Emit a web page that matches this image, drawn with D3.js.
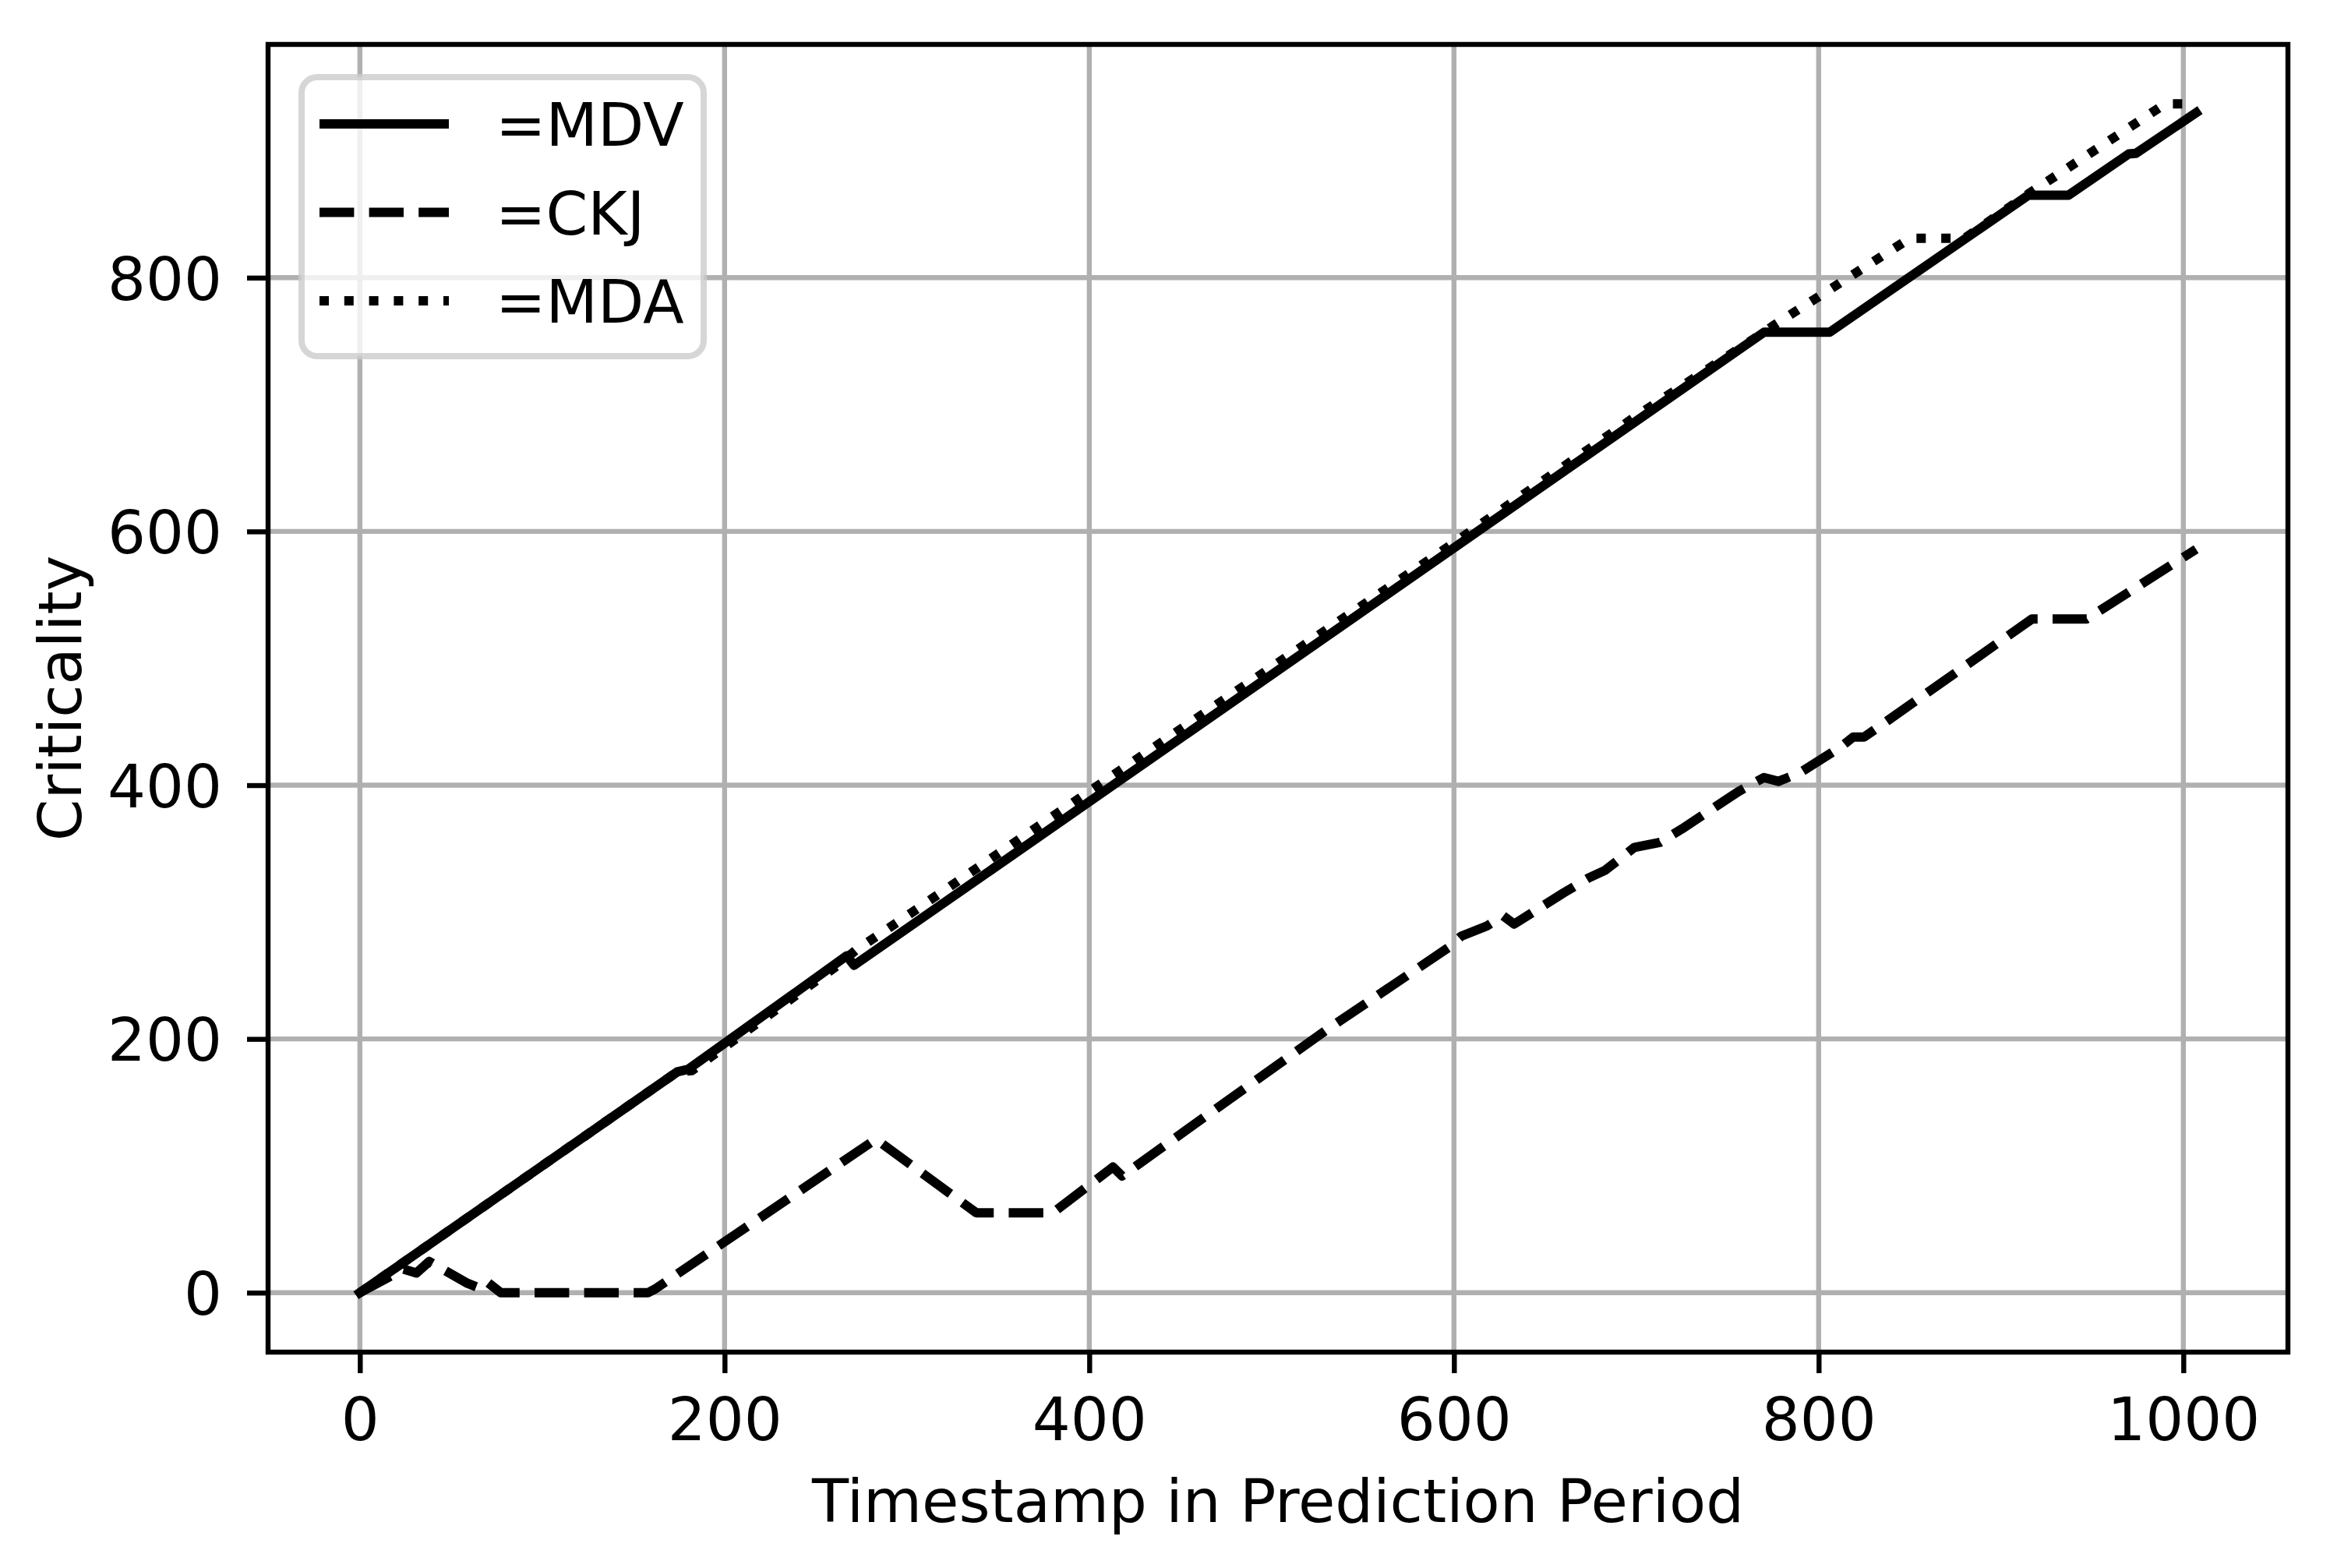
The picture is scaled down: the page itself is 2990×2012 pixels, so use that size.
<!DOCTYPE html>
<html>
<head>
    <meta charset="UTF-8">
    <title>Criticality</title>
    <script src="https://d3js.org/d3.v7.min.js"></script>
    <style>
        body {
            background-color: #ffffff;
            margin: 0;
            padding: 0;
        }
        text {
            font-family: 'DejaVu Sans';
            fill: #000000;
        }
    </style>
</head>
<body>
    <svg width="2990" height="2012" viewBox="0 0 2990 2012"></svg>

    <script>
        // series values, [timestamp, criticality]
        const mdv = [[0, 0], [174, 174], [180, 176], [267, 265.5], [271, 258], [770, 757],
            [806, 757], [915, 865], [937, 865], [970, 897.5], [974, 898], [1007, 930]];
        const ckj = [[0, 0], [24, 18.5], [31, 15.5], [38, 24.6], [59, 7.4], [65.5, 3.7],
            [69.7, 8.6], [77.3, 0], [158, 0], [162, 3], [283, 121], [338, 63], [380, 63],
            [413, 99], [418, 92], [530, 207], [597, 272], [604, 281], [618, 289], [627, 297],
            [633, 290.5], [660, 315], [674, 327], [683, 333], [699, 351], [713, 355],
            [725, 365.5], [756, 395], [770, 406], [778, 403], [790, 410], [812, 430],
            [819, 438], [825, 438], [834, 447], [917, 531], [947, 531], [1007, 586]];
        const mda = [[0, 0], [174, 174], [182, 175], [262, 258], [272, 270], [300, 297],
            [600, 591], [700, 691], [770, 757], [776, 763], [850, 831], [868, 831],
            [880, 831], [915, 866], [990, 937], [1007, 937]];

        const seriesNames = ["=MDV", "=CKJ", "=MDA"];
        const xTicks = [0, 200, 400, 600, 800, 1000];
        const yTicks = [0, 200, 400, 600, 800];
        const xTitle = "Timestamp in Prediction Period";
        const yTitle = "Criticality";

        const svg = d3.select("svg");
        const pL = 344, pR = 2936, pT = 57, pB = 1735;
        const fs = 77;

        const all = mdv.concat(ckj, mda);
        const xExt = d3.extent(all, d => d[0]);
        const yExt = d3.extent(all, d => d[1]);
        const xPad = (xExt[1] - xExt[0]) * 0.05;
        const yPad = (yExt[1] - yExt[0]) * 0.05;

        const x = d3.scaleLinear().domain([xExt[0] - xPad, xExt[1] + xPad]).range([pL, pR]);
        const y = d3.scaleLinear().domain([yExt[0] - yPad, yExt[1] + yPad]).range([pB, pT]);

        // grid
        const grid = svg.append("g").attr("class", "grid");
        grid.selectAll(".gx").data(xTicks).enter().append("line")
            .attr("x1", d => x(d)).attr("x2", d => x(d))
            .attr("y1", pT).attr("y2", pB)
            .attr("stroke", "#b0b0b0").attr("stroke-width", 6.4);
        grid.selectAll(".gy").data(yTicks).enter().append("line")
            .attr("y1", d => y(d)).attr("y2", d => y(d))
            .attr("x1", pL).attr("x2", pR)
            .attr("stroke", "#b0b0b0").attr("stroke-width", 6.4);

        // axes
        const xAxis = svg.append("g")
            .attr("transform", "translate(0," + pB + ")")
            .call(d3.axisBottom(x).tickValues(xTicks).tickSize(27).tickPadding(30).tickFormat(d3.format("d")));
        const yAxis = svg.append("g")
            .attr("transform", "translate(" + pL + ",0)")
            .call(d3.axisLeft(y).tickValues(yTicks).tickSize(27).tickPadding(32).tickFormat(d3.format("d")));
        [xAxis, yAxis].forEach(function (a) {
            a.select(".domain").remove();
            a.selectAll(".tick line").attr("stroke", "#000").attr("stroke-width", 6.4);
            a.selectAll(".tick text").style("font-size", fs + "px").attr("font-family", "DejaVu Sans");
        });
        yAxis.selectAll(".tick text").attr("dy", "0.36em");
        xAxis.selectAll(".tick text").attr("dy", "0.73em");

        // lines
        const line = d3.line().x(d => x(d[0])).y(d => y(d[1]));
        const styles = [
            { data: mdv, dash: null, cap: "square" },
            { data: ckj, dash: "44.4,19.2", cap: "butt" },
            { data: mda, dash: "12,19.8", cap: "butt" }
        ];
        svg.append("g").selectAll("path").data(styles).enter().append("path")
            .attr("d", d => line(d.data))
            .attr("fill", "none")
            .attr("stroke", "#000")
            .attr("stroke-width", 12)
            .attr("stroke-linejoin", "round")
            .attr("stroke-linecap", d => d.cap)
            .attr("stroke-dasharray", d => d.dash);

        // frame
        svg.append("rect")
            .attr("x", pL).attr("y", pT)
            .attr("width", pR - pL).attr("height", pB - pT)
            .attr("fill", "none").attr("stroke", "#000").attr("stroke-width", 6.4);

        // axis titles
        svg.append("text")
            .attr("x", (pL + pR) / 2).attr("y", 1953)
            .attr("text-anchor", "middle")
            .style("font-size", fs + "px")
            .text(xTitle);
        svg.append("text")
            .attr("transform", "translate(104," + (pT + pB) / 2 + ") rotate(-90)")
            .attr("text-anchor", "middle")
            .style("font-size", fs + "px")
            .text(yTitle);

        // legend
        const leg = svg.append("g");
        leg.append("rect")
            .attr("x", 387).attr("y", 99)
            .attr("width", 516).attr("height", 358)
            .attr("rx", 20).attr("ry", 20)
            .attr("fill", "#fff").attr("fill-opacity", 0.8)
            .attr("stroke", "#cccccc").attr("stroke-opacity", 0.8).attr("stroke-width", 8);
        const rowY = [159, 272.5, 386];
        const items = leg.selectAll(".item").data(styles).enter().append("g");
        items.append("line")
            .attr("x1", 410).attr("x2", 576)
            .attr("y1", (d, i) => rowY[i]).attr("y2", (d, i) => rowY[i])
            .attr("stroke", "#000").attr("stroke-width", 12)
            .attr("stroke-linecap", d => d.cap === "square" ? "butt" : d.cap)
            .attr("stroke-dasharray", d => d.dash);
        items.append("text")
            .attr("x", 636).attr("y", (d, i) => rowY[i] + 28)
            .style("font-size", fs + "px")
            .text((d, i) => seriesNames[i]);
    </script>
</body>
</html>
